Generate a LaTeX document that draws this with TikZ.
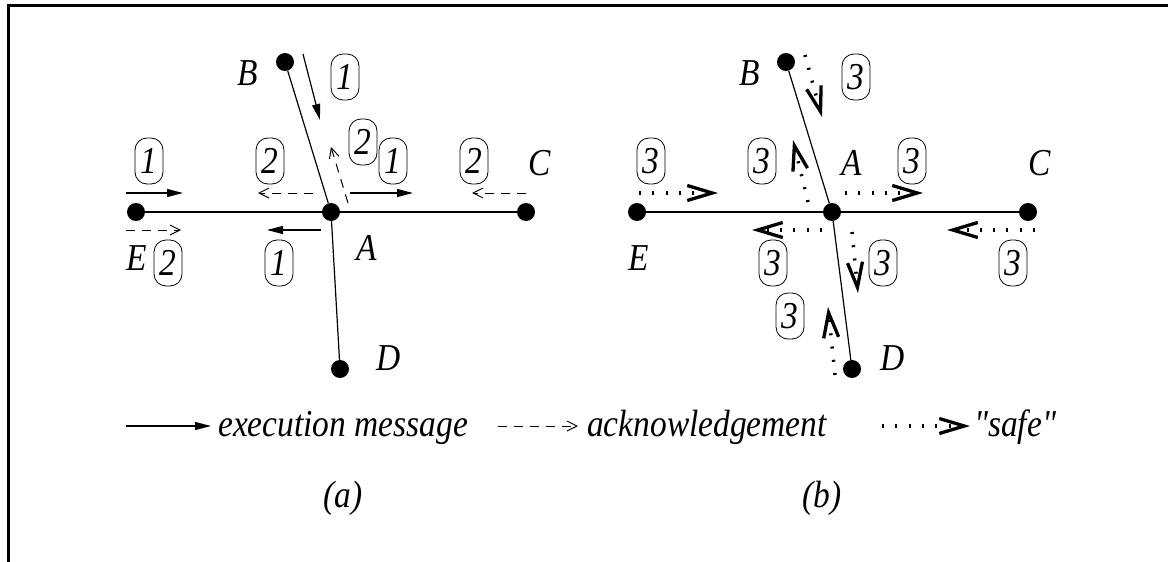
\documentclass[tikz,border=0pt]{standalone}
\usepackage{fontspec}
\newfontfamily\figfont{Liberation Serif}[FakeStretch=0.88]
\usetikzlibrary{arrows.meta}
\begin{document}
\begin{tikzpicture}[x=1pt,y=-1pt,
  every node/.style={font=\figfont\fontsize{38}{42}\selectfont\itshape},
  dot/.style={circle, fill=black, inner sep=0pt, minimum size=18pt},
  lbl/.style={inner sep=0pt},
  badge/.style={draw, rounded corners=12pt, minimum width=28pt, minimum height=46pt, inner sep=0pt, line width=0.8pt},
  edge/.style={line width=1.2pt},
  exe/.style={line width=1.2pt, -{Triangle[length=16pt,width=8pt]}},
  ack/.style={line width=1pt, dash pattern=on 9pt off 7pt, -{Straight Barb[length=10pt,width=10pt,line width=1pt]}},
  safe/.style={line width=3.5pt, dash pattern=on 2pt off 11.3pt, -{Straight Barb[length=25pt,width=15pt,line width=3.3pt]}}
]
\useasboundingbox (0,0) rectangle (1168,562);
% frame
\draw[line width=3pt] (8,562) -- (8,5.5) -- (1168,5.5);

% ---------------- panel (a) ----------------
\node[dot] (aB) at (285,62) {};
\node[dot] (aA) at (331,212) {};
\node[dot] (aE) at (136,212) {};
\node[dot] (aC) at (526,212) {};
\node[dot] (aD) at (340,369) {};
\draw[edge] (aE) -- (aA) -- (aC);
\draw[edge] (aB) -- (aA) -- (aD);
\node[lbl] (aBl) at (248,73) {B};
\node[lbl] (aAl) at (367,248) {A};
\node[lbl] (aCl) at (540,163) {C};
\node[lbl] (aDl) at (389,358) {D};
\node[lbl] (aEl) at (137,258) {E};
\node[badge] (ab1) at (345,77) {1};
\node[badge] (ab2) at (363,142) {2};
\node[badge] (ab3) at (393,161) {1};
\node[badge] (ab4) at (149,161) {1};
\node[badge] (ab5) at (270,161) {2};
\node[badge] (ab6) at (474,161) {2};
\node[badge] (ab7) at (168,263) {2};
\node[badge] (ab8) at (279,263) {1};
% arrows (a)
\coordinate (p1s) at (303,54);  \coordinate (p1e) at (320,120);
\coordinate (p2s) at (348,203); \coordinate (p2e) at (331,147);
\coordinate (p3s) at (350,193); \coordinate (p3e) at (413,193);
\coordinate (p4s) at (313,193); \coordinate (p4e) at (258,193);
\coordinate (p5s) at (526,193); \coordinate (p5e) at (472,193);
\coordinate (p6s) at (126,193); \coordinate (p6e) at (183,193);
\coordinate (p7s) at (126,230); \coordinate (p7e) at (181,230);
\coordinate (p8s) at (321,230); \coordinate (p8e) at (267,230);
\draw[exe] (p1s) -- (p1e);
\draw[ack] (p2s) -- (p2e);
\draw[exe] (p3s) -- (p3e);
\draw[ack] (p4s) -- (p4e);
\draw[ack] (p5s) -- (p5e);
\draw[exe] (p6s) -- (p6e);
\draw[ack] (p7s) -- (p7e);
\draw[exe] (p8s) -- (p8e);

% ---------------- panel (b) ----------------
\node[dot] (bB) at (786,62) {};
\node[dot] (bA) at (832,212) {};
\node[dot] (bE) at (637,212) {};
\node[dot] (bC) at (1028,212) {};
\node[dot] (bD) at (852,369) {};
\draw[edge] (bE) -- (bA) -- (bC);
\draw[edge] (bB) -- (bA) -- (bD);
\node[lbl] (bBl) at (750,73) {B};
\node[lbl] (bAl) at (852,163) {A};
\node[lbl] (bCl) at (1040,163) {C};
\node[lbl] (bDl) at (893,358) {D};
\node[lbl] (bEl) at (639,258) {E};
\node[badge] (bb1) at (856,77) {3};
\node[badge] (bb2) at (651,161) {3};
\node[badge] (bb3) at (762,161) {3};
\node[badge] (bb4) at (912,161) {3};
\node[badge] (bb5) at (773,263) {3};
\node[badge] (bb6) at (883,263) {3};
\node[badge] (bb7) at (1013,263) {3};
\node[badge] (bb8) at (790,316) {3};
% arrows (b)
\coordinate (q1s) at (805,55);  \coordinate (q1e) at (822,117);
\coordinate (q2s) at (808,202); \coordinate (q2e) at (793,140);
\coordinate (q3s) at (639,193); \coordinate (q3e) at (718,193);
\coordinate (q4s) at (845,193); \coordinate (q4e) at (923,193);
\coordinate (q5s) at (822,230); \coordinate (q5e) at (752,230);
\coordinate (q6s) at (1035,230); \coordinate (q6e) at (947,230);
\coordinate (q7s) at (852,232); \coordinate (q7e) at (858,293);
\coordinate (q8s) at (835,375); \coordinate (q8e) at (828,307);
\draw[safe] (q1s) -- (q1e);
\draw[safe] (q2s) -- (q2e);
\draw[safe] (q3s) -- (q3e);
\draw[safe] (q4s) -- (q4e);
\draw[safe] (q5s) -- (q5e);
\draw[safe] (q6s) -- (q6e);
\draw[safe] (q7s) -- (q7e);
\draw[safe] (q8s) -- (q8e);

% ---------------- legend ----------------
\coordinate (l1s) at (126,426); \coordinate (l1e) at (211,426);
\coordinate (l2s) at (498,426); \coordinate (l2e) at (578,426);
\coordinate (l3s) at (882,426); \coordinate (l3e) at (970,426);
\draw[exe] (l1s) -- (l1e);
\draw[ack] (l2s) -- (l2e);
\draw[safe] (l3s) -- (l3e);
\node[lbl, anchor=base west] (t1) at (218,436) {execution message};
\node[lbl, anchor=base west] (t2) at (587,436) {acknowledgement};
\node[lbl, anchor=base west] (t3) at (974,436) {"safe"};
\node[lbl] (capa) at (343,498) {(a)};
\node[lbl] (capb) at (822,498) {(b)};
\end{tikzpicture}
\end{document}
